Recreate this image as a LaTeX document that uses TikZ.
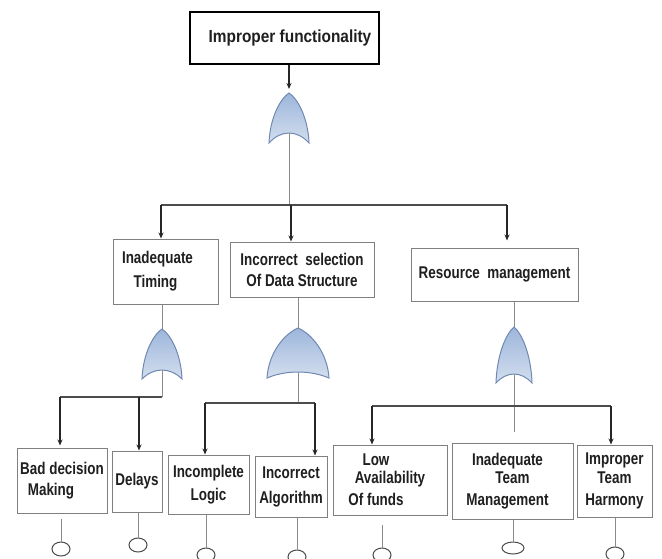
\documentclass[tikz,border=0pt]{standalone}
\usepackage{fontspec}
\setmainfont[FakeStretch=0.79]{Liberation Sans}
\newfontfamily\titlefont[FakeStretch=0.88]{Liberation Sans}
\usetikzlibrary{shapes.geometric,arrows.meta}
\definecolor{gatetop}{HTML}{9DB6DB}
\definecolor{gatebot}{HTML}{D3DEEE}
\definecolor{gatebd}{HTML}{7089B2}
\newcommand\orgate[6]{%
  \draw[gatestyle] (#2-#4,#3+#5) .. controls (#2-0.95*#4,#3+0.5*#5) and (#2-0.45*#4,#3+0.12*#5) .. (#2,#3)
    .. controls (#2+0.45*#4,#3+0.12*#5) and (#2+0.95*#4,#3+0.5*#5) .. (#2+#4,#3+#5)
    .. controls (#2+0.4*#4,#3+#5-1.33*#6) and (#2-0.4*#4,#3+#5-1.33*#6) .. cycle;
  \coordinate (#1top) at (#2,#3);
  \coordinate (#1bot) at (#2,#3+#5-#6);
}
\begin{document}
\begin{tikzpicture}[x=1pt,y=-1pt,
  txt/.style={text=black!88,font=\bfseries\fontsize{17}{21}\selectfont,align=center},
  box/.style={txt,draw=black!50,line width=1pt,rectangle,inner sep=0pt},
  topbox/.style={txt,draw=black,line width=2pt,rectangle,inner sep=0pt,font=\titlefont\bfseries\fontsize{17.5}{21}\selectfont},
  gatestyle/.style={draw=gatebd,line width=1pt,top color=gatetop,bottom color=gatebot},
  wire/.style={draw=black!45,line width=1pt},
  bus/.style={draw=black!70,line width=1.3pt},
  arr/.style={draw=black!85,line width=1.3pt,-{Stealth[length=6pt,width=5pt]}},
  leaf/.style={ellipse,draw=black!70,line width=1pt,minimum width=18pt,minimum height=14pt,inner sep=0pt}
]
\clip (0,0) rectangle (662,558);
\fill[white] (0,0) rectangle (662,558);

% top event
\node[topbox,minimum width=189pt,minimum height=52pt] (top) at (284.5,38) {\hspace*{11pt}Improper functionality};
\orgate{g1}{289}{93}{20}{50}{10}
\draw[arr] (top.south -| g1top) -- ([yshift=4pt]g1top);

% level 1 boxes
\node[box,minimum width=105pt,minimum height=65pt] (T1) at (165.5,271.5) {Inadequate\hspace*{16pt}\\[3pt]Timing\hspace*{20pt}};
\node[box,minimum width=144pt,minimum height=55pt] (T2) at (302,269.5) {Incorrect \ selection\\Of Data Structure};
\node[box,minimum width=167pt,minimum height=53pt] (T3) at (494.5,274.5) {Resource \ management};

\coordinate (j1) at (289,205);
\coordinate (a1) at (161,205);
\coordinate (a2) at (291,205);
\coordinate (a3) at (507,205);
\draw[wire] (g1bot) -- (j1);
\draw[bus] (a1) -- (a3);
\draw[arr] (a1) -- (a1 |- T1.north);
\draw[arr] (a2) -- (a2 |- T2.north);
\draw[arr,shorten >=7pt] (a3) -- (a3 |- T3.north);

% gates level 2
\orgate{g2}{162}{329}{20}{50}{9}
\orgate{g3}{298}{328}{31}{50}{6}
\orgate{g4}{514}{327}{18}{56}{9}
\draw[wire] (T1.south -| g2top) -- (g2top);
\draw[wire] (T2.south -| g3top) -- (g3top);
\draw[wire] (T3.south -| g4top) -- (g4top);

% bottom boxes
\node[box,minimum width=90pt,minimum height=65pt] (B1) at (62,480.5) {Bad decision\\Making\hspace*{22pt}};
\node[box,minimum width=50pt,minimum height=61pt] (B2) at (137,481.5) {Delays};
\node[box,minimum width=81pt,minimum height=59pt] (B3) at (208.5,484.5) {Incomplete\\[2pt]Logic};
\node[box,minimum width=72pt,minimum height=61pt] (B4) at (291,486.5) {Incorrect\\[4pt]Algorithm};
\node[box,minimum width=114pt,minimum height=70pt] (B5) at (390,480) {Low\hspace*{28pt}\\[-3pt]Availability\hspace*{28pt}\\[1pt]Of funds\hspace*{28pt}};
\node[box,minimum width=121pt,minimum height=76pt] (B6) at (512.5,481) {Inadequate\hspace*{10pt}\\[-3pt]Team\hspace*{10pt}\\[1pt]Management\hspace*{10pt}};
\node[box,minimum width=75pt,minimum height=72pt] (B7) at (614.5,481) {Improper\\[-2pt]Team\\[1pt]Harmony};

% buses level 2
\coordinate (c1) at (60,397);
\coordinate (c2) at (139,397);
\coordinate (c3) at (162,397);
\draw[wire] (g2bot) -- (c3);
\draw[bus] (c1) -- (c3);
\draw[arr,shorten >=2pt] (c1) -- (c1 |- B1.north);
\draw[arr] (c2) -- (c2 |- B2.north);

\coordinate (d1) at (205,403);
\coordinate (d2) at (298,403);
\coordinate (d3) at (315,403);
\draw[wire] (g3bot) -- (d2);
\draw[bus] (d1) -- (d3);
\draw[arr] (d1) -- (d1 |- B3.north);
\draw[arr] (d3) -- (d3 |- B4.north);

\coordinate (f1) at (372,406);
\coordinate (f2) at (611,406);
\coordinate (f3) at (514,432);
\draw[wire] (g4bot) -- (f3);
\draw[bus] (f1) -- (f2);
\draw[arr] (f1) -- (f1 |- B5.north);
\draw[arr] (f2) -- (f2 |- B7.north);

% basic events
\node[leaf] (e1) at (61,549) {};
\node[leaf] (e2) at (138,545) {};
\node[leaf] (e3) at (206,555) {};
\node[leaf] (e4) at (297,557) {};
\node[leaf] (e5) at (382,555) {};
\node[leaf,minimum width=22pt,minimum height=12pt] (e6) at (513,548) {};
\node[leaf] (e7) at (615,554) {};
\draw[wire,shorten <=5pt] (e1.north |- B1.south) -- (e1.north);
\draw[wire] (e2.north |- B2.south) -- (e2.north);
\draw[wire] (e3.north |- B3.south) -- (e3.north);
\draw[wire] (e4.north |- B4.south) -- (e4.north);
\draw[wire,shorten <=9pt] (e5.north |- B5.south) -- (e5.north);
\draw[wire] (e6.north |- B6.south) -- (e6.north);
\draw[wire] (e7.north |- B7.south) -- (e7.north);
\end{tikzpicture}
\end{document}
